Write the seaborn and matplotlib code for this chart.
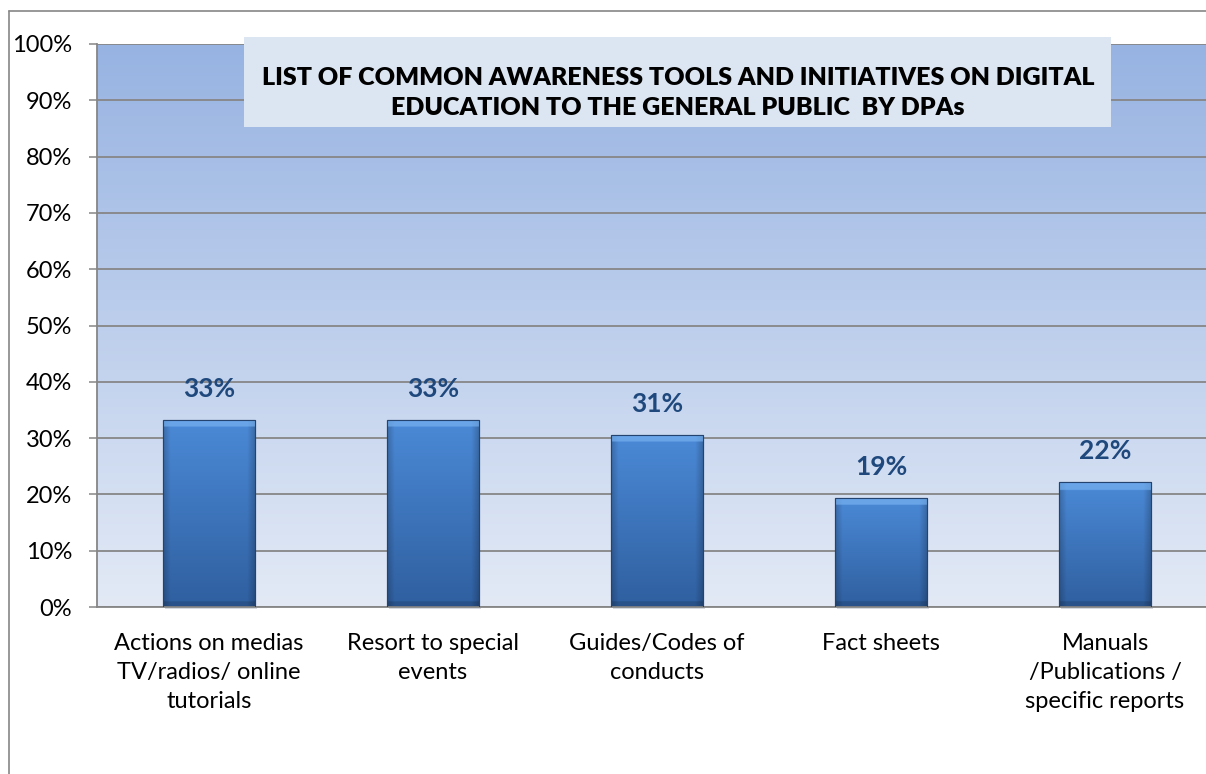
import numpy as np
import matplotlib
matplotlib.use("Agg")
import matplotlib.pyplot as plt
import seaborn as sns
from matplotlib.patches import Rectangle
from matplotlib.lines import Line2D
from matplotlib.ticker import PercentFormatter, FixedLocator
from matplotlib.colors import to_rgb

# ---------------------------------------------------------
# Data
# ---------------------------------------------------------
categories = [
    "Actions on medias\nTV/radios/ online\ntutorials",
    "Resort to special\nevents",
    "Guides/Codes of\nconducts",
    "Fact sheets",
    "Manuals\n/Publications /\nspecific reports",
]
shares = [0.333, 0.333, 0.306, 0.194, 0.222]
share_labels = ["33%", "33%", "31%", "19%", "22%"]
title = ("LIST OF COMMON AWARENESS TOOLS AND INITIATIVES ON DIGITAL\n"
         "EDUCATION TO THE GENERAL PUBLIC  BY DPAs")

sns.set_style("white")
plt.rcParams["font.family"] = ["Lato", "DejaVu Sans"]
plt.rcParams["text.color"] = "black"
plt.rcParams["xtick.color"] = "black"
plt.rcParams["ytick.color"] = "black"

W, H = 1206, 774
fig = plt.figure(figsize=(W / 100, H / 100), dpi=100)
fig.patch.set_facecolor("white")
fig.patch.set_edgecolor("none")
fig.patch.set_linewidth(0)

# plot area runs off the right edge like the original crop
ax = fig.add_axes([97 / W, (H - 607) / H, 1120 / W, 563 / H])
ax.patch.set_visible(False)

# outer chart border (only top and left edges fall inside the picture)
fig.add_artist(Line2D([9 / W, 1.02], [1 - 11 / H, 1 - 11 / H], transform=fig.transFigure,
                      color="#868686", lw=1.2))
fig.add_artist(Line2D([9 / W, 9 / W], [-0.02, 1 - 11 / H], transform=fig.transFigure,
                      color="#868686", lw=1.2))

# gradient background of the plot area
top_c = np.array(to_rgb("#97b3e2"))
bot_c = np.array(to_rgb("#e3eaf6"))
t = np.linspace(0, 1, 256)[:, None]
bg = (top_c * (1 - t) + bot_c * t)[:, None, :]
ax.imshow(bg, extent=[-0.5, 4.5, 0, 1], aspect="auto", zorder=0, interpolation="bilinear")

sns.barplot(x=list(range(len(shares))), y=shares, color="#3d7cc9", width=0.41,
            ax=ax, zorder=2, edgecolor="#24446f", linewidth=0.8)

# bevelled gradient fill for each bar
bar_top = np.array(to_rgb("#4b8ad7"))
bar_bot = np.array(to_rgb("#2f5f9f"))
for p in ax.patches:
    x0, y0 = p.get_x(), p.get_y()
    w, h = p.get_width(), p.get_height()
    ny, nx = 300, 92
    tv = np.linspace(0, 1, ny)[:, None, None]
    img = bar_top * (1 - tv) + bar_bot * tv
    img = np.repeat(img, nx, axis=1)
    xs = np.linspace(0, 1, nx)
    edge = np.clip(np.minimum(xs, 1 - xs) / 0.08, 0, 1)
    img = img * (0.80 + 0.20 * edge)[None, :, None]
    # light bevel on top
    hpx = h * 563
    band = max(1, int(ny * 8 / hpx))
    for k in range(band):
        img[k] = img[k] * 0.35 + np.array(to_rgb("#7ab4f2")) * 0.65
    # dark base strip
    img[-max(1, int(ny * 6 / hpx)):] *= 0.86
    im = ax.imshow(np.clip(img, 0, 1), extent=[x0, x0 + w, y0, y0 + h],
                   aspect="auto", zorder=2.5, interpolation="bilinear")
    im.set_clip_path(p)
    # soft shadow under bar
    ax.add_patch(Rectangle((x0 + 0.008, y0 - 0.004), w, 0.004, color="#a6aebb",
                           alpha=0.45, zorder=1.5, clip_on=False, lw=0))
    ax.add_patch(Rectangle((x0, y0), w, h, fill=False, edgecolor="#24446f",
                           lw=0.8, zorder=3))

ax.bar_label(ax.containers[0], labels=share_labels, padding=13.5, fontsize=19,
             fontweight="bold", color="#1f497d", zorder=4)

ax.set_xlim(-0.5, 4.5)
ax.set_ylim(0, 1)
ax.set_yticks(np.arange(0, 1.01, 0.1))
ax.yaxis.set_major_formatter(PercentFormatter(1.0, decimals=0))
ax.set_xticks(range(len(categories)))
ax.set_xticklabels(categories, linespacing=1.45)
ax.xaxis.set_minor_locator(FixedLocator(np.arange(-0.5, 4.6, 1)))
ax.tick_params(axis="x", which="major", length=0, pad=19, labelsize=17)
ax.tick_params(axis="x", which="minor", length=8, width=1.1, color="#868686", direction="out")
ax.tick_params(axis="y", length=6, width=1.1, color="#868686", labelsize=17, pad=12, left=True)
ax.set_xlabel("")
ax.set_ylabel("")

ax.set_axisbelow(True)
ax.yaxis.grid(True, color="#868686", lw=1.3)
for side in ["top", "right"]:
    ax.spines[side].set_visible(False)
for side in ["left", "bottom"]:
    ax.spines[side].set_color("#868686")
    ax.spines[side].set_linewidth(1.3)

# title box
fig.patches.append(Rectangle((244 / W, 1 - 127 / H), (1111 - 244) / W, 90 / H,
                             transform=fig.transFigure, facecolor="#dce6f2",
                             edgecolor="none", zorder=5))
fig.text(678 / W, 1 - 93 / H, title, ha="center", va="center", fontsize=18,
         fontweight="heavy", color="black", linespacing=1.45, zorder=6)

fig.savefig("out.png", dpi=100)
